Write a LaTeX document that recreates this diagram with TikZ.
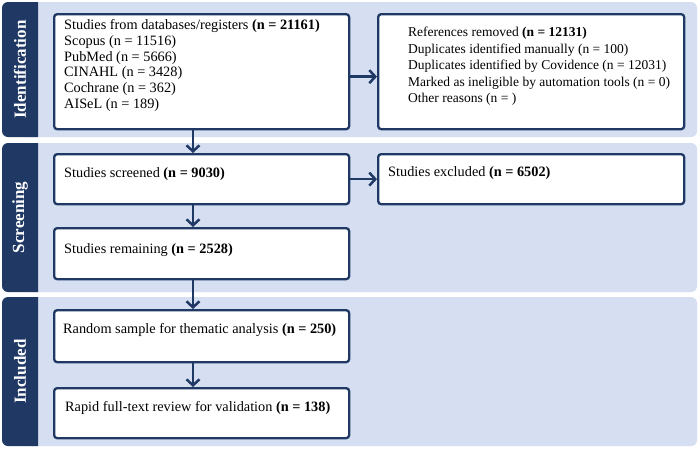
\documentclass[tikz,border=0pt]{standalone}
\usepackage{fontspec}
\setmainfont{Liberation Serif}
\usetikzlibrary{arrows.meta,calc}
\definecolor{navy}{RGB}{31,56,100}
\definecolor{band}{RGB}{214,223,241}
\begin{document}
\begin{tikzpicture}[x=1pt,y=-1pt,
  bandfill/.style={fill=band},
  barfill/.style={fill=navy},
  barlabel/.style={rotate=90,text=white,inner sep=0pt,font=\bfseries\fontsize{17}{20}\selectfont},
  flowbox/.style={draw=navy,line width=2.3pt,fill=white,rounded corners=3pt,anchor=north west,inner sep=0pt},
  txt/.style={inner sep=0pt,align=left,font=\fontsize{14.3}{15.7}\selectfont},
  smalltxt/.style={inner sep=0pt,align=left,font=\fontsize{13.5}{16.5}\selectfont},
  arr/.style={draw=navy,line width=2.5pt,-{Straight Barb[length=6pt,width=13pt]}}
]
\useasboundingbox[fill=white] (0,0) rectangle (700,450);
% bands
\fill[bandfill,rounded corners=6pt] (20,2) rectangle (697,137);
\fill[bandfill,rounded corners=6pt] (20,143) rectangle (697,292);
\fill[bandfill,rounded corners=6pt] (20,297) rectangle (697,446);
% side bars
\fill[barfill] (38,2) [rounded corners=6pt] -- (2,2) -- (2,137) [sharp corners] -- (38,137) -- cycle;
\fill[barfill] (38,143) [rounded corners=6pt] -- (2,143) -- (2,292) [sharp corners] -- (38,292) -- cycle;
\fill[barfill] (38,297) [rounded corners=6pt] -- (2,297) -- (2,446) [sharp corners] -- (38,446) -- cycle;
\node[barlabel] (lid) at (20,69.5) {Identification};
\node[barlabel] (lsc) at (20,217.5) {Screening};
\node[barlabel] (lin) at (20,371.5) {Included};
% boxes
\node[flowbox,minimum width=295pt,minimum height=115pt] (b1) at (53,13) {};
\node[flowbox,minimum width=306pt,minimum height=115pt] (b2) at (377,13) {};
\node[flowbox,minimum width=295pt,minimum height=50pt] (b3) at (53,153) {};
\node[flowbox,minimum width=306pt,minimum height=50pt] (b4) at (377,153) {};
\node[flowbox,minimum width=295pt,minimum height=51pt] (b5) at (53,227) {};
\node[flowbox,minimum width=295pt,minimum height=52pt] (b6) at (53,309) {};
\node[flowbox,minimum width=295pt,minimum height=50pt] (b7) at (53,387) {};
% texts
\node[txt,anchor=north west] (t1) at (64,19.5) {Studies from databases/registers \textbf{(n = 21161)}\\
Scopus (n = 11516)\\ PubMed (n = 5666)\\ CINAHL (n = 3428)\\ Cochrane (n = 362)\\ AISeL (n = 189)};
\node[smalltxt,anchor=north west] (t2) at (408,27) {References removed \textbf{(n = 12131)}\\
Duplicates identified manually (n = 100)\\ Duplicates identified by Covidence (n = 12031)\\
Marked as ineligible by automation tools (n = 0)\\ Other reasons (n = )};
\node[txt,anchor=base west] (t3) at (64,177.5) {Studies screened \textbf{(n = 9030)}};
\node[txt,anchor=base west] (t4) at (388,176.5) {Studies excluded \textbf{(n = 6502)}};
\node[txt,anchor=base west] (t5) at (64,253) {Studies remaining \textbf{(n = 2528)}};
\node[txt,anchor=base west] (t6) at (63,333.5) {Random sample for thematic analysis \textbf{(n = 250)}};
\node[txt,anchor=base west] (t7) at (65,411.5) {Rapid full-text review for validation \textbf{(n = 138)}};
% arrows
\coordinate (ax) at (193,0);
\draw[arr] (b1.south -| ax) -- (b3.north -| ax);
\draw[arr] (b3.south -| ax) -- (b5.north -| ax);
\draw[arr] (b5.south -| ax) -- (b6.north -| ax);
\draw[arr] (b6.south -| ax) -- (b7.north -| ax);
\draw[arr] ([yshift=-5pt]b1.east) -- ([yshift=-5pt]b2.west);
\draw[arr] (b3.east) -- (b4.west);
\end{tikzpicture}
\end{document}
